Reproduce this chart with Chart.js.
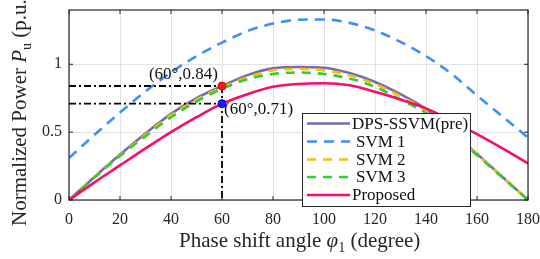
<!DOCTYPE html>
<html>
<head>
<meta charset="utf-8">
<script src="https://cdn.jsdelivr.net/npm/chart.js@4/dist/chart.umd.min.js"></script>
<style>
html,body{margin:0;padding:0;background:#fff;}
#wrap{position:relative;width:540px;height:259px;}
</style>
</head>
<body>
<div id="wrap"><canvas id="c" width="540" height="259"></canvas></div>
<script>
// ---- data ----
const phi      = [0,10,20,30,40,50,60,70,80,90,100,110,120,130,140,150,160,170,180];
const dpsSsvm  = [0,0.17,0.335,0.49,0.635,0.75,0.84,0.92,0.97,0.98,0.975,0.935,0.87,0.78,0.67,0.505,0.34,0.17,0];
const svm1     = [0.31,0.48,0.645,0.80,0.94,1.06,1.16,1.245,1.30,1.328,1.33,1.305,1.25,1.165,1.06,0.93,0.77,0.615,0.46];
const svm2     = [0,0.17,0.33,0.48,0.625,0.74,0.83,0.905,0.955,0.965,0.955,0.92,0.855,0.765,0.66,0.50,0.335,0.17,0];
const svm3     = [0,0.165,0.325,0.47,0.61,0.725,0.82,0.89,0.928,0.94,0.928,0.895,0.834,0.74,0.64,0.49,0.33,0.165,0];
const proposed = [0,0.13,0.255,0.38,0.50,0.61,0.71,0.78,0.834,0.855,0.86,0.845,0.797,0.74,0.674,0.585,0.485,0.38,0.27];
const seriesNames = ['DPS-SSVM(pre)','SVM 1','SVM 2','SVM 3','Proposed'];
const refPhi = 60, refHigh = 0.84, refLow = 0.71;
const xTicks = [0,20,40,60,80,100,120,140,160,180];
const yTicks = [0,0.5,1];

const colors = ['#7B68AE','#3D8EFF','#F2C00E','#33CC33','#FF0A6C'];
const dashes = [[],[10,7],[9,7],[9,7],[]];

const pts = arr => phi.map((x,i)=>({x:x,y:arr[i]}));
const allSeries = [dpsSsvm, svm1, svm2, svm3, proposed];
const orders = [5,4,3,2,1];

const datasets = allSeries.map((arr,i)=>({
  label: seriesNames[i],
  data: pts(arr),
  borderColor: colors[i],
  backgroundColor: colors[i],
  borderWidth: 2.6,
  borderDash: dashes[i],
  pointRadius: 0,
  cubicInterpolationMode: 'monotone',
  fill: false,
  order: orders[i]
}));

const dashDot = [7,3,2,3];
datasets.push({label:'h1',data:[{x:0,y:refHigh},{x:refPhi,y:refHigh}],borderColor:'#000',borderWidth:1.8,borderDash:dashDot,pointRadius:0,order:0});
datasets.push({label:'h2',data:[{x:0,y:refLow},{x:refPhi,y:refLow}],borderColor:'#000',borderWidth:1.8,borderDash:dashDot,pointRadius:0,order:0});
datasets.push({label:'v',data:[{x:refPhi,y:refHigh},{x:refPhi,y:0}],borderColor:'#000',borderWidth:1.8,borderDash:dashDot,pointRadius:0,order:0});
datasets.push({label:'pHigh',type:'scatter',data:[{x:refPhi,y:refHigh}],backgroundColor:'#FF1A1A',borderColor:'#E00000',pointRadius:4,borderWidth:1,order:-1});
datasets.push({label:'pLow',type:'scatter',data:[{x:refPhi,y:refLow}],backgroundColor:'#1A1AFF',borderColor:'#0000E0',pointRadius:4,borderWidth:1,order:-1});

const SERIF = '"Liberation Serif","DejaVu Serif",serif';

const decor = {
  id:'decor',
  afterDraw(chart){
    const ctx = chart.ctx, a = chart.chartArea;
    const xs = chart.scales.x, ys = chart.scales.y;
    ctx.save();
    // box
    ctx.strokeStyle = '#262626'; ctx.lineWidth = 1.2;
    ctx.strokeRect(a.left, a.top, a.right-a.left, a.bottom-a.top);
    // inner ticks
    ctx.lineWidth = 1;
    xTicks.forEach(v=>{const px=xs.getPixelForValue(v);
      ctx.beginPath();ctx.moveTo(px,a.bottom);ctx.lineTo(px,a.bottom-4);ctx.moveTo(px,a.top);ctx.lineTo(px,a.top+4);ctx.stroke();});
    yTicks.forEach(v=>{const py=ys.getPixelForValue(v);
      ctx.beginPath();ctx.moveTo(a.left,py);ctx.lineTo(a.left+4,py);ctx.moveTo(a.right,py);ctx.lineTo(a.right-4,py);ctx.stroke();});
    // point labels
    ctx.fillStyle = '#111';
    ctx.font = '17px '+SERIF;
    ctx.textAlign = 'right'; ctx.textBaseline = 'alphabetic';
    ctx.fillText('(60°,0.84)', xs.getPixelForValue(refPhi)-4, ys.getPixelForValue(refHigh)-7);
    ctx.textAlign = 'left';
    ctx.fillText('(60°,0.71)', xs.getPixelForValue(refPhi)+2, ys.getPixelForValue(refLow)+10);

    // x title
    ctx.fillStyle = '#262626';
    const big = '21px '+SERIF, ital = 'italic 21px '+SERIF, sub = '14px '+SERIF;
    const partsX = [['Phase shift angle ',big,0],['φ',ital,0],['1',sub,5],[' (degree)',big,0]];
    let x0 = 179, yb = 247;
    ctx.textAlign='left';
    partsX.forEach(p=>{ctx.font=p[1]; ctx.fillText(p[0], x0, yb+p[2]); x0 += ctx.measureText(p[0]).width;});

    // y title
    ctx.save();
    ctx.translate(26, 226);
    ctx.rotate(-Math.PI/2);
    const partsY = [['Normalized Power ',big,0],['P',ital,0],['u',sub,5],[' (p.u.)',big,0]];
    let xx = 0;
    partsY.forEach(p=>{ctx.font=p[1]; ctx.fillText(p[0], xx, p[2]); xx += ctx.measureText(p[0]).width;});
    ctx.restore();

    // legend
    const lx=302, ly=113, lw=168, lh=93;
    ctx.fillStyle='#fff'; ctx.fillRect(lx,ly,lw,lh);
    ctx.strokeStyle='#262626'; ctx.lineWidth=1; ctx.strokeRect(lx+0.5,ly+0.5,lw,lh);
    const rowY = [123.5,141.5,159.5,177,195];
    seriesNames.forEach((n,i)=>{
      ctx.strokeStyle=colors[i]; ctx.lineWidth=2.6; ctx.setLineDash(dashes[i]);
      ctx.beginPath(); ctx.moveTo(307,rowY[i]); ctx.lineTo(350,rowY[i]); ctx.stroke();
      ctx.setLineDash([]);
      ctx.fillStyle='#111'; ctx.font='17px '+SERIF; ctx.textBaseline='middle';
      ctx.fillText(n, (i>=1&&i<=3)?356:352, rowY[i]+1);
    });
    ctx.restore();
  }
};

new Chart(document.getElementById('c'), {
  type:'line',
  data:{datasets:datasets},
  options:{
    responsive:false,
    animation:false,
    devicePixelRatio:1,
    layout:{padding:{left:0,right:12,top:10,bottom:0}},
    plugins:{legend:{display:false},tooltip:{enabled:false}},
    scales:{
      x:{type:'linear',min:0,max:180,
        afterBuildTicks:s=>{s.ticks=xTicks.map(v=>({value:v}));},
        afterFit:s=>{s.height=59; s.paddingLeft=0; s.paddingRight=0;},
        grid:{color:'#E3E3E3',lineWidth:1,drawTicks:false},
        border:{display:false},
        ticks:{padding:10,color:'#262626',font:{family:SERIF,size:16},maxRotation:0,autoSkip:false}
      },
      y:{type:'linear',min:0,max:1.4,
        afterBuildTicks:s=>{s.ticks=yTicks.map(v=>({value:v}));},
        afterFit:s=>{s.width=69; s.paddingTop=0; s.paddingBottom=0;},
        grid:{color:'#E3E3E3',lineWidth:1,drawTicks:false},
        border:{display:false},
        ticks:{padding:7,color:'#262626',font:{family:SERIF,size:16},callback:v=>String(v)}
      }
    }
  },
  plugins:[decor]
});
</script>
</body>
</html>
